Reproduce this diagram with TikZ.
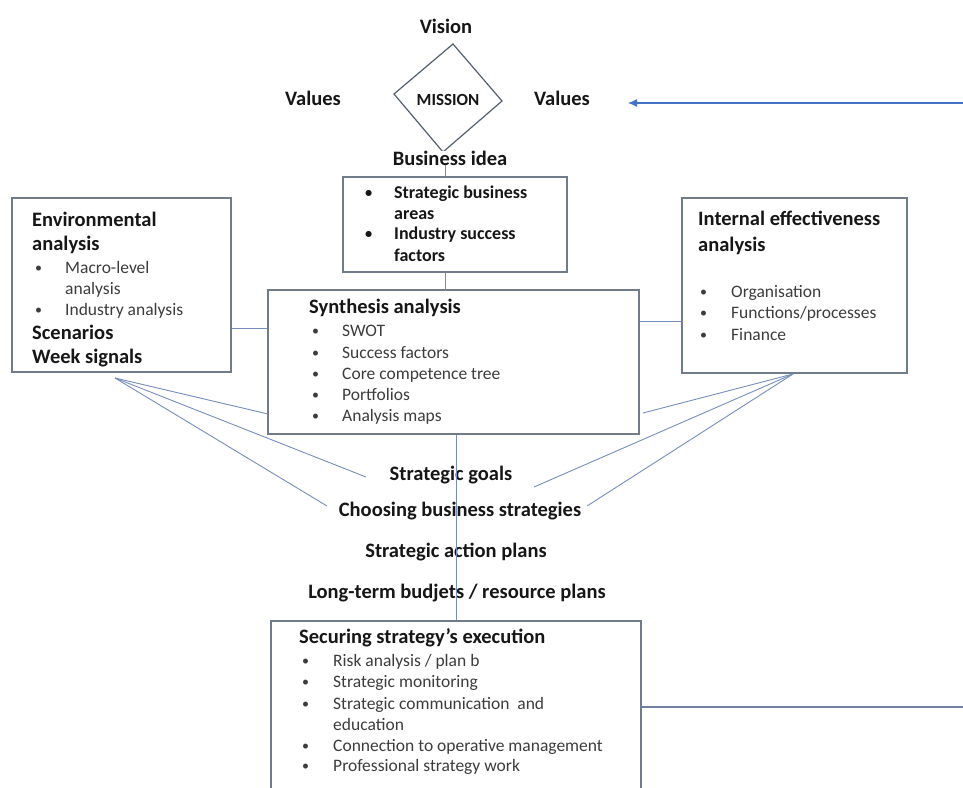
\documentclass[tikz,border=0pt]{standalone}
\usepackage{fontspec}
\setmainfont{Carlito}
\usetikzlibrary{arrows.meta}

\definecolor{boxc}{RGB}{112,124,140}
\definecolor{diamc}{RGB}{82,94,114}
\definecolor{linkc}{RGB}{118,142,190}
\definecolor{arrowc}{RGB}{68,114,196}
\definecolor{txtb}{RGB}{22,22,22}
\definecolor{txtr}{RGB}{60,60,60}

% one bulleted line: name, bullet x, text x, y, text, style
\newcommand\bulletline[6]{%
  \node[#6,bulletmark] (#1b) at (#2,#4) {•};
  \node[#6] (#1) at (#3,#4) {#5};}

\begin{document}
\begin{tikzpicture}[x=1pt,y=-1pt,
  box/.style={draw=boxc,line width=1.3pt,fill=none,inner sep=0pt},
  link/.style={draw=linkc,line width=0.9pt},
  head/.style={font=\fontsize{20.5}{24}\selectfont\bfseries,text=txtb,inner sep=0pt,anchor=mid west,yshift=-3pt},
  midhead/.style={font=\fontsize{20.5}{24}\selectfont\bfseries,text=txtb,inner sep=1pt,yshift=-1pt},
  boldtext/.style={font=\fontsize{18}{21}\selectfont\bfseries,text=txtb,inner sep=0pt,anchor=mid west,yshift=-2pt},
  plain/.style={font=\fontsize{17.5}{21}\selectfont,text=txtr,inner sep=0pt,anchor=mid west,yshift=-2pt},
  bulletmark/.style={inner sep=0pt,anchor=mid west,scale=0.8},
]
\useasboundingbox (0,0) rectangle (963,787);

% ---------- mission diamond ----------
\coordinate (dT) at (453,44);
\coordinate (dR) at (502,101);
\coordinate (dB) at (443,152);
\coordinate (dL) at (394,94);
\draw[draw=diamc,line width=1.2pt,line join=miter] (dT) -- (dR) -- (dB) -- (dL) -- cycle;
\node[font=\fontsize{17}{19}\selectfont\bfseries,text=txtb] (mission) at (448,100) {MISSION};
\node[midhead] (vision) at (446,25) {Vision};
\node[midhead] (valL) at (313,97) {Values};
\node[midhead] (valR) at (562,97) {Values};
\node[midhead,fill=white,inner sep=0pt] (biz) at (450,157) {Business idea};

% ---------- boxes ----------
\node[box,minimum width=224pt,minimum height=95pt] (sba) at (455,224.5) {};
\node[box,minimum width=219pt,minimum height=174pt] (env) at (121.5,285) {};
\node[box,minimum width=371pt,minimum height=144pt] (syn) at (453.5,362) {};
\node[box,minimum width=225pt,minimum height=175pt] (int) at (794.5,285.5) {};
\node[box,minimum width=370pt,minimum height=179pt] (sec) at (456,710.5) {};

% business areas box
\bulletline{sbaA}{365}{394}{194}{Strategic business}{boldtext}
\node[boldtext] (sbaA2) at (394,215) {areas};
\bulletline{sbaB}{365}{394}{235}{Industry success}{boldtext}
\node[boldtext] (sbaB2) at (394,257) {factors};

% environmental analysis box
\node[head] (envT1) at (32,221) {Environmental};
\node[head] (envT2) at (32,245) {analysis};
\bulletline{envA}{35}{65}{269}{Macro-level}{plain}
\node[plain] (envA2) at (65,290) {analysis};
\bulletline{envB}{35}{65}{311}{Industry analysis}{plain}
\node[head] (envC) at (32,334) {Scenarios};
\node[head] (envD) at (32,358) {Week signals};

% synthesis box
\node[head] (synT) at (309,308) {Synthesis analysis};
\bulletline{synA}{312}{342}{332}{SWOT}{plain}
\bulletline{synB}{312}{342}{354}{Success factors}{plain}
\bulletline{synC}{312}{342}{375}{Core competence tree}{plain}
\bulletline{synD}{312}{342}{396}{Portfolios}{plain}
\bulletline{synE}{312}{342}{417}{Analysis maps}{plain}

% internal effectiveness box
\node[head] (intT1) at (698,220) {Internal effectiveness};
\node[head] (intT2) at (698,246) {analysis};
\bulletline{intA}{700}{731}{293}{Organisation}{plain}
\bulletline{intB}{700}{731}{314}{Functions/processes}{plain}
\bulletline{intC}{700}{731}{336}{Finance}{plain}

% execution box
\node[head] (secT) at (299,638) {Securing strategy’s execution};
\bulletline{secA}{302}{333}{662}{Risk analysis / plan b}{plain}
\bulletline{secB}{302}{333}{683}{Strategic monitoring}{plain}
\bulletline{secC}{302}{333}{705}{Strategic communication\ \ and}{plain}
\node[plain] (secC2) at (333,726) {education};
\bulletline{secD}{302}{333}{747}{Connection to operative management}{plain}
\bulletline{secE}{302}{333}{767}{Professional strategy work}{plain}

% ---------- middle steps ----------
\node[midhead] (goals) at (451,474) {Strategic goals};
\node[midhead] (choose) at (460,510) {Choosing business strategies};
\node[midhead] (action) at (456,551) {Strategic action plans};
\node[midhead] (budget) at (457,592) {Long-term budjets / resource plans};

% ---------- connectors ----------
\coordinate (spine) at (445.5,0);
\draw[link] (biz.south -| spine) -- (sba.north -| spine);
\draw[link] (sba.south -| spine) -- (syn.north -| spine);
\draw[link] (syn.south -| sec.north) -- (sec.north);

\coordinate (rowL) at (0,328);
\coordinate (rowR) at (0,321);
\draw[link] (env.east |- rowL) -- (syn.west |- rowL);
\draw[link] (syn.east |- rowR) -- (int.west |- rowR);

% fan from the environmental box
\coordinate (envFan) at (115,378);
\coordinate (synInL) at (268,414);
\coordinate (goalsL) at (366,477);
\coordinate (chooseL) at (327,506);
\draw[link] (envFan) -- (synInL);
\draw[link] (envFan) -- (goalsL);
\draw[link] (envFan) -- (chooseL);

% fan from the internal box
\coordinate (intFan) at (793,374);
\coordinate (synInR) at (643,413);
\coordinate (goalsR) at (534,487);
\coordinate (chooseR) at (587,506);
\draw[link] (intFan) -- (synInR);
\draw[link] (intFan) -- (goalsR);
\draw[link] (intFan) -- (chooseR);

% feedback loop
\coordinate (loopIn) at (963,103);
\coordinate (loopTip) at (628,103);
\draw[draw=arrowc,line width=1.1pt,-{Latex[length=9pt,width=8pt]}] (loopIn) -- (loopTip);
\coordinate (loopOut) at (963,707);
\draw[draw=boxc!70!linkc,line width=1.2pt] (sec.east |- loopOut) -- (loopOut);

\end{tikzpicture}
\end{document}
